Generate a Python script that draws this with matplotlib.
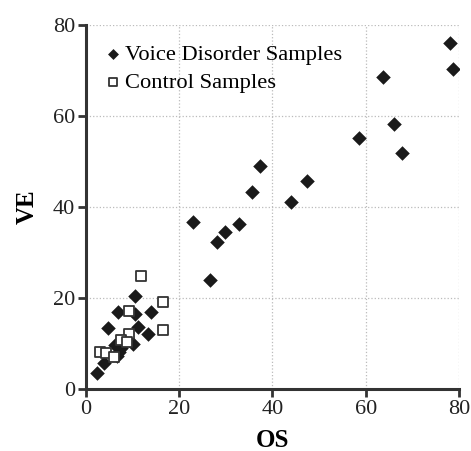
import numpy as np
import matplotlib.pyplot as plt

# voice disorder samples (OS, VE)
vd_os = [2.4, 3.8, 4.7, 6.8, 6.2, 7.1, 6.7, 7.6, 10.0, 10.5, 10.6, 11.1, 13.3, 14.0,
         22.9, 26.7, 28.0, 29.8, 32.9, 35.7, 37.4, 44.0, 47.4, 58.5, 63.8, 66.0, 67.7,
         78.1, 78.7]
vd_ve = [3.5, 5.8, 13.5, 16.9, 9.6, 8.2, 7.2, 9.0, 9.8, 20.4, 16.4, 13.6, 12.1, 16.9,
         36.8, 24.0, 32.2, 34.4, 36.3, 43.2, 49.1, 41.2, 45.7, 55.2, 68.5, 58.3, 51.8,
         76.1, 70.4]

# control samples (OS, VE)
ct_os = [11.7, 16.6, 16.6, 9.2, 9.2, 7.6, 8.8, 3.0, 4.2, 6.0]
ct_ve = [24.8, 19.1, 13.0, 17.2, 12.1, 10.7, 10.4, 8.1, 8.0, 7.0]

plt.rcParams['font.family'] = ['Liberation Serif', 'DejaVu Serif']

fig = plt.figure(figsize=(4.71, 4.51), dpi=100)
ax = fig.add_axes([0.1826, 0.1375, 0.7919, 0.8071])

ax.scatter(vd_os, vd_ve, marker='D', s=55, color='#1a1a1a', linewidths=0,
           label='Voice Disorder Samples', zorder=3)
ax.scatter(ct_os, ct_ve, marker='s', s=55, facecolors='white', edgecolors='#333333',
           linewidths=1.3, label='Control Samples', zorder=4)

ax.set_xlim(0, 80)
ax.set_ylim(0, 80)
ax.set_xticks([0, 20, 40, 60, 80])
ax.set_yticks([0, 20, 40, 60, 80])
ax.grid(True, color='#bbbbbb', linestyle=':', linewidth=0.9)
ax.set_axisbelow(True)

for s in ['top', 'right']:
    ax.spines[s].set_visible(False)
for s in ['left', 'bottom']:
    ax.spines[s].set_linewidth(2.2)
    ax.spines[s].set_color('#333333')
ax.tick_params(direction='out', length=6, width=2, color='#333333',
               labelsize=16, labelcolor='#222222', pad=2)

ax.set_xlabel('OS', fontsize=18, fontweight='bold', labelpad=7)
ax.set_ylabel('VE', fontsize=18, fontweight='bold', labelpad=10)

ax.legend(loc='upper left', bbox_to_anchor=(0.0, 0.99), frameon=False,
          fontsize=16.2, handletextpad=0.05, handlelength=1.0,
          borderaxespad=0.3, labelspacing=0.3, markerscale=0.75)

fig.savefig('out.png', dpi=100)
